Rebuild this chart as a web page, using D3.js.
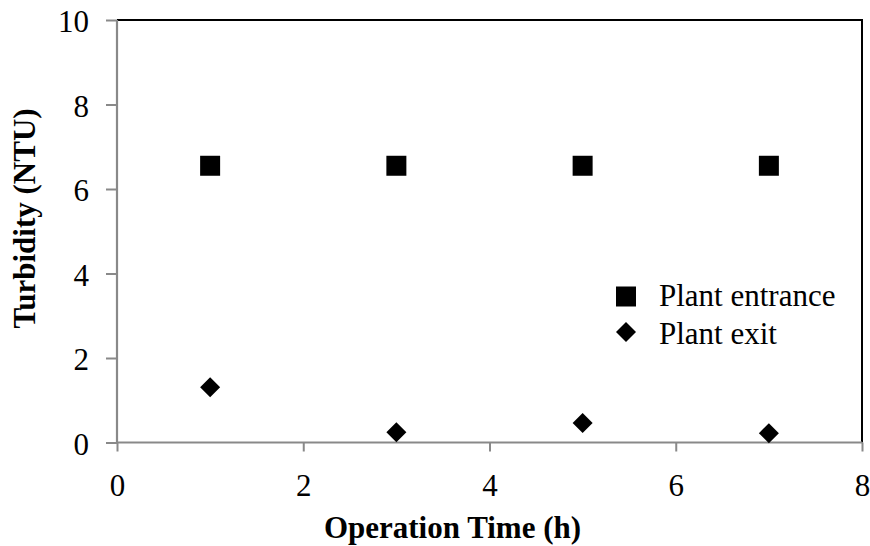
<!DOCTYPE html>
<html>
<head>
<meta charset="utf-8">
<script src="https://cdn.jsdelivr.net/npm/d3@7"></script>
<style>
  html, body { margin: 0; padding: 0; background: #fff; }
  svg { display: block; }
</style>
</head>
<body>
<svg id="chart" width="870" height="546"></svg>
<script>
// ---- data ----
const operationTime = [1, 3, 5, 7];
const plantEntrance = [6.55, 6.55, 6.55, 6.55];
const plantExit = [1.31, 0.24, 0.46, 0.22];
const xTicks = [0, 2, 4, 6, 8];
const yTicks = [0, 2, 4, 6, 8, 10];
const seriesNames = ["Plant entrance", "Plant exit"];
const xTitle = "Operation Time (h)";
const yTitle = "Turbidity (NTU)";

// ---- layout ----
const plotLeft = 117, plotRight = 862, plotTop = 20, plotBottom = 442.5;
const FONT = '"Liberation Serif", "Times New Roman", Times, serif';
const fontSize = "31px";
const axisColor = "#898989";
const svg = d3.select("#chart");

const x = d3.scaleLinear().domain([0, 8]).range([plotLeft, plotRight]);
const y = d3.scaleLinear().domain([0, 10]).range([plotBottom, plotTop]);

// plot area border (top & right black)
svg.append("path")
  .attr("d", `M${plotLeft},${plotTop}H${plotRight}V${plotBottom}`)
  .attr("fill", "none").attr("stroke", "#000").attr("stroke-width", 2);

// y axis
const yAxis = svg.append("g").attr("transform", `translate(${plotLeft},0)`)
  .call(d3.axisLeft(y).tickValues(yTicks).tickSize(11).tickPadding(17).tickFormat(d3.format("d")));
// x axis
const xAxis = svg.append("g").attr("transform", `translate(0,${plotBottom})`)
  .call(d3.axisBottom(x).tickValues(xTicks).tickSize(9).tickPadding(22.5).tickFormat(d3.format("d")));

[yAxis, xAxis].forEach(g => {
  g.attr("font-family", null).attr("font-size", null);
  g.select(".domain").attr("stroke", axisColor).attr("stroke-width", 2.2);
  g.selectAll(".tick line").attr("stroke", axisColor).attr("stroke-width", 2);
  g.selectAll(".tick text")
    .style("font-family", FONT).style("font-size", fontSize).attr("fill", "#000");
});
yAxis.selectAll(".tick text").attr("dy", "0.38em");
xAxis.select(".domain").attr("d", `M${plotLeft},0H${plotRight}`);
yAxis.select(".domain").attr("d", `M0,${plotBottom}V${plotTop}`);

// markers
const squareSym = d3.symbol(d3.symbolSquare, 400);
const diamondSym = d3.symbol(d3.symbolSquare, 200);

svg.append("g").selectAll("path")
  .data(operationTime.map((t, i) => [t, plantEntrance[i]]))
  .join("path")
  .attr("d", squareSym)
  .attr("transform", d => `translate(${x(d[0])},${y(d[1])})`)
  .attr("fill", "#000");

svg.append("g").selectAll("path")
  .data(operationTime.map((t, i) => [t, plantExit[i]]))
  .join("path")
  .attr("d", diamondSym)
  .attr("transform", d => `translate(${x(d[0])},${y(d[1])}) rotate(45)`)
  .attr("fill", "#000");

// legend
const lg = svg.append("g");
lg.append("path").attr("d", squareSym).attr("transform", "translate(626,296.5)").attr("fill", "#000");
lg.append("path").attr("d", diamondSym).attr("transform", "translate(626,332) rotate(45)").attr("fill", "#000");
lg.append("text").attr("x", 659).attr("y", 305.5)
  .style("font-family", FONT).style("font-size", fontSize).attr("fill", "#000").text(seriesNames[0]);
lg.append("text").attr("x", 659).attr("y", 344)
  .style("font-family", FONT).style("font-size", fontSize).attr("fill", "#000").text(seriesNames[1]);

// axis titles
svg.append("text")
  .attr("x", 452.5).attr("y", 538)
  .attr("text-anchor", "middle")
  .style("font-family", FONT).style("font-size", fontSize).style("font-weight", "bold").attr("fill", "#000")
  .text(xTitle);
svg.append("text")
  .attr("transform", `translate(35,218.5) rotate(-90)`)
  .attr("text-anchor", "middle")
  .style("font-family", FONT).style("font-size", fontSize).style("font-weight", "bold").attr("fill", "#000")
  .text(yTitle);
</script>
</body>
</html>
